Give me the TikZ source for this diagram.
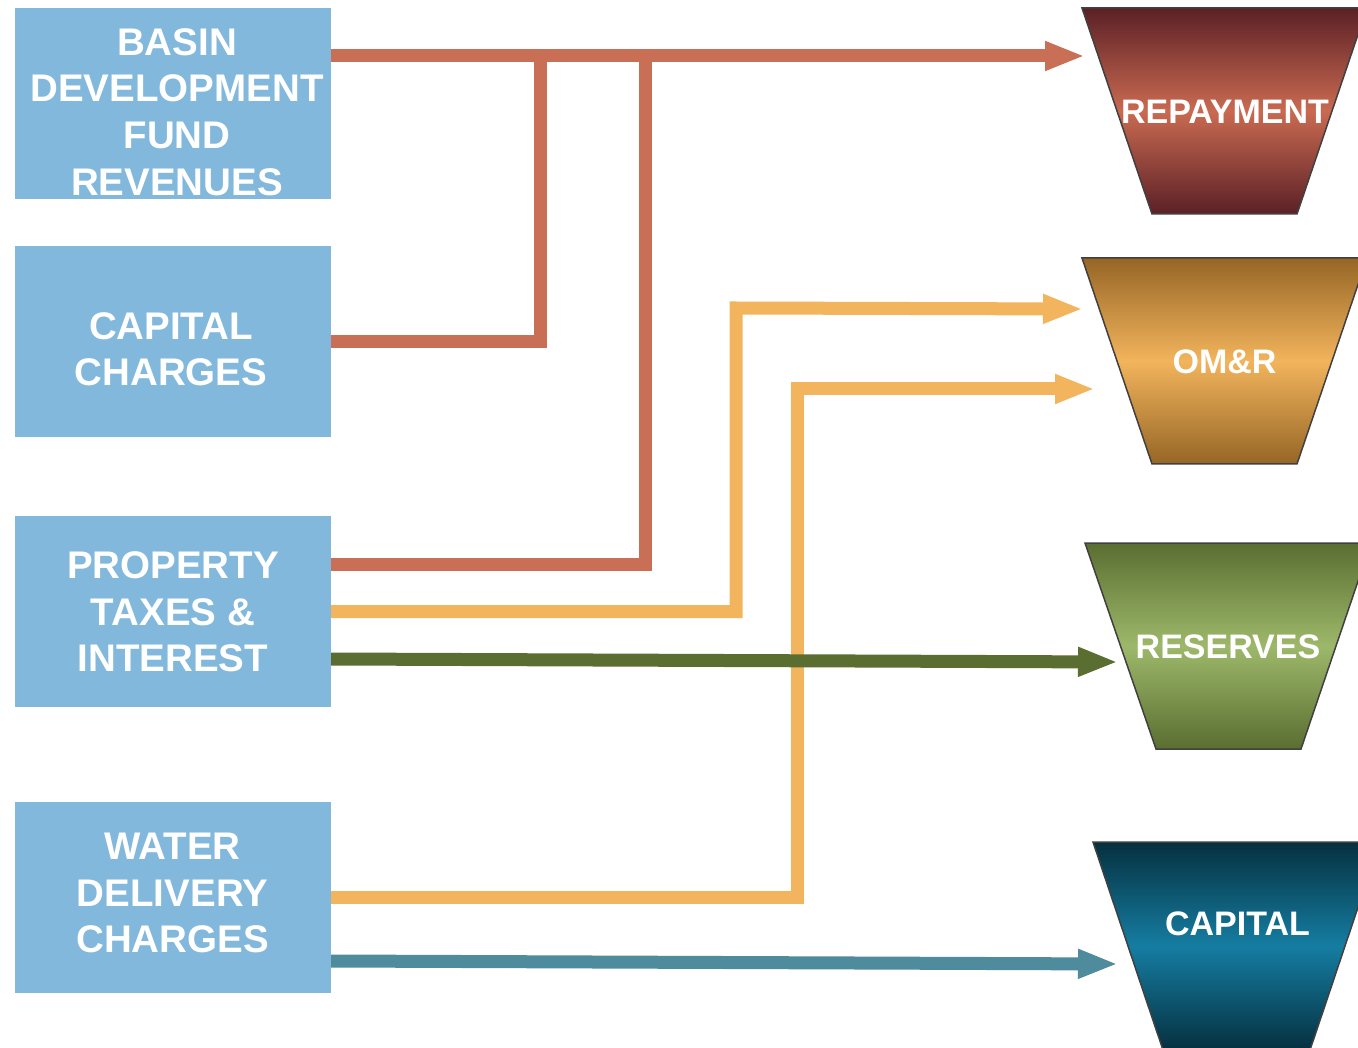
\documentclass[tikz,border=0pt]{standalone}
\usepackage{fontspec}
\setmainfont{Liberation Sans}
\usetikzlibrary{arrows.meta}
\definecolor{boxblue}{HTML}{82B8DC}
\definecolor{flowred}{HTML}{C96F55}
\definecolor{flowyellow}{HTML}{F2B45C}
\definecolor{flowgreen}{HTML}{5A6E31}
\definecolor{flowteal}{HTML}{4D8B9D}
\definecolor{repdark}{HTML}{5B2026}
\definecolor{repmid}{HTML}{C96A51}
\definecolor{omrdark}{HTML}{966626}
\definecolor{omrmid}{HTML}{F2B45C}
\definecolor{resdark}{HTML}{5A6E31}
\definecolor{resmid}{HTML}{9DB86A}
\definecolor{capdark}{HTML}{06303F}
\definecolor{capmid}{HTML}{157DA2}
\definecolor{edgegray}{HTML}{404040}
\begin{document}
\begin{tikzpicture}[x=1pt,y=-1pt,
  srcbox/.style={fill=boxblue, draw=none, inner sep=0pt, minimum width=316pt, minimum height=191pt},
  srctext/.style={text=white, font=\fontsize{38.5}{46.5}\selectfont\bfseries, align=center, inner sep=0pt},
  sinktext/.style={text=white, font=\fontsize{34}{40}\selectfont\bfseries, inner sep=0pt},
  flow/.style={line width=13pt, line join=miter, line cap=butt},
  flowtip/.style={-{Triangle[length=40pt,width=27pt]}},
  funnel/.style={draw=edgegray, line width=1.5pt}
]
\useasboundingbox (0,0) rectangle (1358,1048);
\fill[white] (0,0) rectangle (1358,1048);

% source boxes
\node[srcbox] (b1) at (173,103.5) {};
\node[srcbox] (b2) at (173,341.5) {};
\node[srcbox] (b3) at (173,611.5) {};
\node[srcbox] (b4) at (173,897.5) {};
\node[srctext] (t1) at (177,112) {BASIN\\DEVELOPMENT\\FUND\\REVENUES};
\node[srctext] (t2) at (171,349) {CAPITAL\\CHARGES};
\node[srctext] (t3) at (173,612) {PROPERTY\\TAXES \&\\INTEREST};
\node[srctext] (t4) at (172.5,893) {WATER\\DELIVERY\\CHARGES};

% funnels
\path[funnel, top color=repdark, bottom color=repdark, middle color=repmid]
  (1082,8) -- (1367,8) -- (1297,214) -- (1152,214) -- cycle;
\path[funnel, top color=omrdark, bottom color=omrdark, middle color=omrmid]
  (1082,258) -- (1367,258) -- (1297,464) -- (1152,464) -- cycle;
\path[funnel, top color=resdark, bottom color=resdark, middle color=resmid]
  (1085,543) -- (1371,543) -- (1301,749) -- (1156,749) -- cycle;
\path[funnel, top color=capdark, bottom color=capdark, middle color=capmid]
  (1093,842) -- (1380,842) -- (1310,1050) -- (1163,1050) -- cycle;
\node[sinktext] (rep) at (1225,111.5) {REPAYMENT};
\node[sinktext] (omr) at (1224.5,362) {OM\&R};
\node[sinktext] (res) at (1228,646.5) {RESERVES};
\node[sinktext] (cap) at (1237.5,924) {CAPITAL};

% arrow tip coordinates and junctions
\coordinate (reptip) at (1085,56);
\coordinate (omrtipA) at (1083,309);
\coordinate (omrtipB) at (1095,389);
\coordinate (restip) at (1118,662);
\coordinate (captip) at (1118,964);
\coordinate (jA) at (540,56);
\coordinate (jB) at (645,56);
\coordinate (kA) at (736,308);
\coordinate (kB) at (797,389);

% red flows
\draw[flow, flowred] (b2.east) -| (jA);
\draw[flow, flowred] ([yshift=47pt]b3.east) -| (jB);
\draw[flow, flowred, flowtip] (b1.east |- reptip) -- (reptip);
% yellow flows
\draw[flow, flowyellow, flowtip] (b3.east) -| (kA) -- (omrtipA);
\draw[flow, flowyellow, flowtip] (b4.east) -| (kB) -- (omrtipB);
% green and teal flows
\draw[flow, flowgreen, flowtip] ([yshift=-47.5pt]b3.east) -- (restip);
\draw[flow, flowteal, flowtip] ([yshift=-63.5pt]b4.east) -- (captip);
\end{tikzpicture}
\end{document}
